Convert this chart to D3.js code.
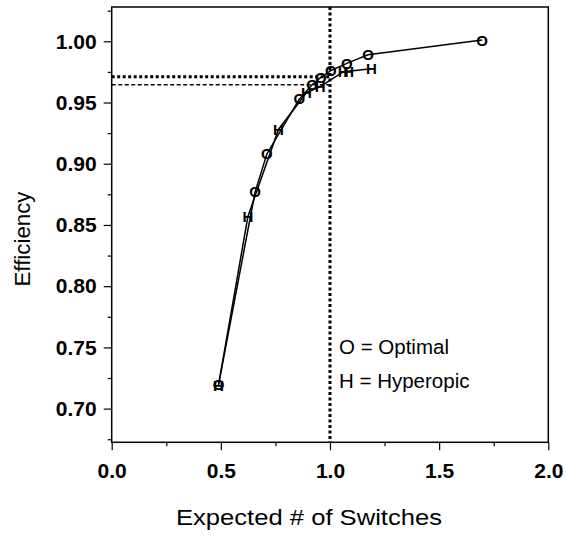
<!DOCTYPE html>
<html><head><meta charset="utf-8">
<script src="https://cdn.jsdelivr.net/npm/d3@7"></script>
<style>body{margin:0;background:#fff}svg{display:block}text{font-family:"Liberation Sans",Arial,sans-serif}</style>
</head><body>
<svg id="c" width="566" height="536"></svg>
<script>
// Optimal series [expected switches, efficiency]
const optimalX = [0.490, 0.657, 0.711, 0.860, 0.918, 0.958, 1.004, 1.077, 1.174, 1.697];
const optimalY = [0.720, 0.877, 0.908, 0.953, 0.9645, 0.9705, 0.976, 0.982, 0.989, 1.001];
// Hyperopic series
const hyperX = [0.489, 0.624, 0.764, 0.892, 0.955, 1.060, 1.085, 1.190];
const hyperY = [0.719, 0.857, 0.928, 0.958, 0.963, 0.975, 0.9755, 0.9775];
const xTicks = [0.0, 0.5, 1.0, 1.5, 2.0];
const xMinor = [0.25, 0.75, 1.25, 1.75];
const yTicks = [0.70, 0.75, 0.80, 0.85, 0.90, 0.95, 1.00];
const yMinor = [0.675, 0.725, 0.775, 0.825, 0.875, 0.925, 0.975, 1.025];
const refHThick = 0.971, refHThin = 0.9645, refV = 1.0;
const legendLines = ["O = Optimal", "H = Hyperopic"];

const svg = d3.select("#c");
const L = 111.7, R = 548.3, T = 7, B = 442.3;
const x = d3.scaleLinear().domain([0, 2]).range([L, R]);
const y = d3.scaleLinear().domain([0.6725, 1.028]).range([B, T]);

// reference lines
svg.append("line").attr("x1", x(0)).attr("x2", x(refV)).attr("y1", y(refHThick)).attr("y2", y(refHThick))
  .attr("stroke", "#000").attr("stroke-width", 3).attr("stroke-dasharray", "3,2.5");
svg.append("line").attr("x1", x(0)).attr("x2", x(refV)).attr("y1", y(refHThin)).attr("y2", y(refHThin))
  .attr("stroke", "#000").attr("stroke-width", 1.3).attr("stroke-dasharray", "4,2.5");
svg.append("line").attr("x1", x(refV)).attr("x2", x(refV)).attr("y1", T).attr("y2", B)
  .attr("stroke", "#000").attr("stroke-width", 3).attr("stroke-dasharray", "3,2.5");

// series lines
const line = d3.line().x(d => x(d[0])).y(d => y(d[1]));
const opt = optimalX.map((v, i) => [v, optimalY[i]]);
const hyp = hyperX.map((v, i) => [v, hyperY[i]]);
[opt, hyp].forEach(s => svg.append("path").attr("d", line(s)).attr("fill", "none")
  .attr("stroke", "#000").attr("stroke-width", 1.5));

// markers
function marks(data, ch) {
  svg.append("g").selectAll("text").data(data).join("text")
    .attr("x", d => x(d[0])).attr("y", d => y(d[1]))
    .attr("text-anchor", "middle").attr("dominant-baseline", "central")
    .attr("font-size", 15).attr("font-weight", "bold").text(ch);
}
marks(opt, "O");
marks(hyp, "H");

// frame
svg.append("rect").attr("x", L).attr("y", T).attr("width", R - L).attr("height", B - T)
  .attr("fill", "none").attr("stroke", "#000").attr("stroke-width", 1.5);

// x axis
const gx = svg.append("g").attr("transform", `translate(0,${B})`);
gx.call(d3.axisBottom(x).tickValues(xTicks).tickSize(8).tickFormat(d3.format(".1f")));
gx.append("g").call(d3.axisBottom(x).tickValues(xMinor).tickSize(4).tickFormat(""));
gx.selectAll(".domain").remove();
gx.selectAll("line").attr("stroke-width", 1.2);
gx.selectAll("text").attr("font-size", 21).attr("font-weight", "bold").attr("dy", null).attr("y", 36)
  .attr("font-family", "Liberation Sans, Arial, sans-serif");

// y axis
const gy = svg.append("g").attr("transform", `translate(${L},0)`);
gy.call(d3.axisLeft(y).tickValues(yTicks).tickSize(8).tickFormat(d3.format(".2f")));
gy.append("g").call(d3.axisLeft(y).tickValues(yMinor).tickSize(4).tickFormat(""));
gy.selectAll(".domain").remove();
gy.selectAll("line").attr("stroke-width", 1.2);
gy.selectAll("text").attr("font-size", 21).attr("font-weight", "bold").attr("x", -15)
  .attr("font-family", "Liberation Sans, Arial, sans-serif");

// axis titles
svg.append("text").attr("transform", "translate(30,239) rotate(-90)").attr("text-anchor", "middle")
  .attr("font-size", 22).attr("textLength", 95).attr("lengthAdjust", "spacingAndGlyphs").text("Efficiency");
svg.append("text").attr("x", 309).attr("y", 525).attr("text-anchor", "middle")
  .attr("font-size", 22).attr("textLength", 266).attr("lengthAdjust", "spacingAndGlyphs")
  .text("Expected # of Switches");

// legend
svg.append("g").selectAll("text").data(legendLines).join("text")
  .attr("x", 339).attr("y", (d, i) => 354 + i * 34).attr("font-size", 20.5).text(d => d);
</script>
</body></html>
